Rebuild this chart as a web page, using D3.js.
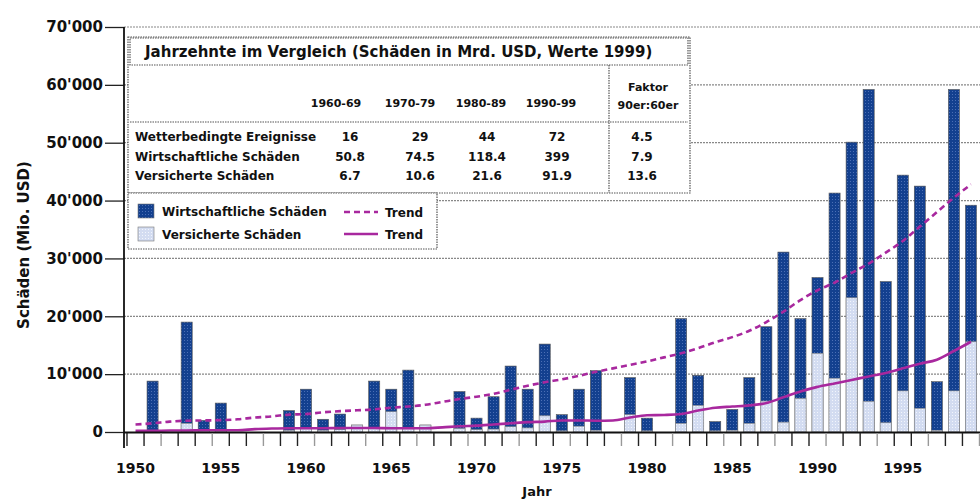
<!DOCTYPE html>
<html><head><meta charset="utf-8">
<script src="https://cdn.jsdelivr.net/npm/d3@7/dist/d3.min.js"></script>
<style>
body{margin:0;background:#fff}
svg{display:block}
text{font-family:"DejaVu Sans",Arial,Helvetica,sans-serif;font-weight:bold;fill:#111}
</style>
</head><body>
<svg id="c" width="980" height="502"></svg>
<script>
// ---------- data ----------
const years = [1950,1951,1952,1953,1954,1955,1956,1957,1958,1959,
               1960,1961,1962,1963,1964,1965,1966,1967,1968,1969,
               1970,1971,1972,1973,1974,1975,1976,1977,1978,1979,
               1980,1981,1982,1983,1984,1985,1986,1987,1988,1989,
               1990,1991,1992,1993,1994,1995,1996,1997,1998,1999];
const economic = [0,8800,0,19000,2000,5000,0,0,0,3700,
                  7400,2200,3100,1200,8800,7400,10700,1200,0,7000,
                  2400,6100,11400,7400,15200,3000,7400,10600,0,9400,
                  2400,0,19600,9800,1800,3900,9400,18200,31100,19600,
                  26700,41300,50100,59200,26000,44400,42500,8700,59200,39200];
const insured = [0,300,0,1500,300,400,0,0,0,300,
                 600,300,400,1200,800,3500,800,1200,0,600,
                 400,500,900,700,2800,200,1000,300,0,3000,
                 200,0,1500,4600,200,300,1500,5350,1700,5800,
                 13600,9300,23200,5300,1600,7100,4100,300,7100,15600];
const trendEconomic = [1300,1500,1800,1950,2000,2050,2200,2500,2700,3000,
                       3100,3400,3600,3750,3900,4200,4400,4700,5200,5700,
                       6100,6600,7300,8000,8600,9100,9700,10400,11000,11600,
                       12200,12900,13600,14500,15500,16400,17500,19000,20800,22800,
                       24500,25800,27500,29100,31000,33000,35500,38000,40500,42800];
const trendInsured = [200,200,250,250,300,300,300,500,600,650,
                      650,650,700,700,700,650,650,650,800,1000,
                      1100,1300,1500,1700,1800,2000,2000,1950,2000,2500,
                      2900,2950,3100,3700,4200,4400,4600,5000,6000,7000,
                      7800,8400,9000,9600,10200,11000,11800,12500,14000,15600];
const yTickValues = [0,10000,20000,30000,40000,50000,60000,70000];
const yTickLabels = ["0","10'000","20'000","30'000","40'000","50'000","60'000","70'000"];
const xLabelYears = [1950,1955,1960,1965,1970,1975,1980,1985,1990,1995];

const tableTitle = "Jahrzehnte im Vergleich (Schäden in Mrd. USD, Werte 1999)";
const decades = ["1960-69","1970-79","1980-89","1990-99"];
const factorHeader = ["Faktor","90er:60er"];
const rowLabels = ["Wetterbedingte Ereignisse","Wirtschaftliche Schäden","Versicherte Schäden"];
const tableValues = [["16","29","44","72"],["50.8","74.5","118.4","399"],["6.7","10.6","21.6","91.9"]];
const factors = ["4.5","7.9","13.6"];
const legendBars = ["Wirtschaftliche Schäden","Versicherte Schäden"];
const legendLines = ["Trend","Trend"];
const yTitle = "Schäden (Mio. USD)";
const xTitle = "Jahr";

// ---------- layout ----------
const svg = d3.select("#c");
const DARK = "#13408f", LIGHT = "#d3dcf1", TREND = "#a8289e";
const defs = svg.append("defs");
const pd = defs.append("pattern").attr("id","pDark").attr("width",3).attr("height",3).attr("patternUnits","userSpaceOnUse");
pd.append("rect").attr("width",3).attr("height",3).attr("fill",DARK);
pd.append("rect").attr("x",1).attr("y",1).attr("width",1).attr("height",1).attr("fill","#4b6fb5");
const pl = defs.append("pattern").attr("id","pLight").attr("width",3).attr("height",3).attr("patternUnits","userSpaceOnUse");
pl.append("rect").attr("width",3).attr("height",3).attr("fill",LIGHT);
pl.append("rect").attr("x",1).attr("y",1).attr("width",1).attr("height",1).attr("fill","#f2f5fc");

const x = d3.scaleBand().domain(years).range([127, 979.5]).paddingInner(0.35).paddingOuter(0.175);
const y = d3.scaleLinear().domain([0,70000]).range([432,27]);
const step = x.step();
const cx = d => x(d) + x.bandwidth()/2;

// grid
svg.append("g").selectAll("line").data(yTickValues.filter(v=>v>0)).join("line")
  .attr("x1",124).attr("x2",980).attr("y1",d=>y(d)).attr("y2",d=>y(d))
  .attr("stroke","#888").attr("stroke-width",1.2).attr("stroke-dasharray","2,1");

// bars
const bars = svg.append("g");
bars.selectAll("rect.e").data(years).join("rect").attr("class","e")
  .attr("x",d=>x(d)).attr("width",x.bandwidth())
  .attr("y",(d,i)=>y(economic[i])).attr("height",(d,i)=>y(0)-y(economic[i]))
  .attr("fill","url(#pDark)").attr("stroke","#555").attr("stroke-width",0.6)
  .style("display",(d,i)=>economic[i]>0?null:"none");
bars.selectAll("rect.i").data(years).join("rect").attr("class","i")
  .attr("x",d=>x(d)).attr("width",x.bandwidth())
  .attr("y",(d,i)=>y(insured[i])).attr("height",(d,i)=>y(0)-y(insured[i]))
  .attr("fill","url(#pLight)").attr("stroke","#888").attr("stroke-width",0.6)
  .style("display",(d,i)=>insured[i]>0?null:"none");

// trends
const line = d3.line().x(d=>cx(d[0])).y(d=>y(d[1])).curve(d3.curveMonotoneX);
svg.append("path").datum(years.map((yr,i)=>[yr,trendEconomic[i]]))
  .attr("d",line).attr("fill","none").attr("stroke",TREND).attr("stroke-width",2.6).attr("stroke-dasharray","6,4");
svg.append("path").datum(years.map((yr,i)=>[yr,trendInsured[i]]))
  .attr("d",line).attr("fill","none").attr("stroke",TREND).attr("stroke-width",2.6);

// y axis
const ya = svg.append("g").attr("transform","translate(124,0)")
  .call(d3.axisLeft(y).tickValues(yTickValues).tickFormat((d,i)=>yTickLabels[i]).tickSize(19).tickPadding(2));
ya.select(".domain").remove();
ya.selectAll(".tick line").attr("stroke","#222").attr("stroke-width",1.3);
ya.selectAll(".tick text").attr("font-size",15).style("font-weight","bold")
  .attr("font-family","DejaVu Sans, Arial, sans-serif").attr("fill","#111");
svg.append("line").attr("x1",124).attr("x2",124).attr("y1",27).attr("y2",448).attr("stroke","#111").attr("stroke-width",1.8);

// x axis
svg.append("line").attr("x1",124).attr("x2",980).attr("y1",432.5).attr("y2",432.5).attr("stroke","#111").attr("stroke-width",1.8);
svg.append("g").selectAll("line").data(years.concat([2000])).join("line")
  .attr("x1",(d,i)=>127+i*step).attr("x2",(d,i)=>127+i*step)
  .attr("y1",433).attr("y2",446)
  .attr("stroke",(d,i)=>i%3===2?"#999":"#222").attr("stroke-width",1.4);
svg.append("g").selectAll("text").data(xLabelYears).join("text")
  .attr("x",d=>cx(d)).attr("y",473).attr("text-anchor","middle")
  .attr("font-size",14).text(d=>d);

// axis titles
svg.append("text").attr("transform","translate(29,245) rotate(-90)").attr("text-anchor","middle")
  .attr("font-size",15).text(yTitle);
svg.append("text").attr("x",537).attr("y",496).attr("text-anchor","middle").attr("font-size",13).text(xTitle);

// table
const tb = svg.append("g");
const box = (x0,y0,w,h,g)=> (g||tb).append("rect").attr("x",x0).attr("y",y0).attr("width",w).attr("height",h)
  .attr("fill","#fff").attr("stroke","#555").attr("stroke-width",1.2).attr("stroke-dasharray","1.5,1");
box(128,37,562,156);
box(130,38,558,27);
tb.append("line").attr("x1",130).attr("x2",688).attr("y1",122).attr("y2",122).attr("stroke","#555").attr("stroke-width",1.2).attr("stroke-dasharray","1.5,1");
tb.append("line").attr("x1",609).attr("x2",609).attr("y1",65).attr("y2",193).attr("stroke","#555").attr("stroke-width",1.2).attr("stroke-dasharray","1.5,1");
tb.append("text").attr("x",145).attr("y",57).attr("font-size",15).text(tableTitle);
const headX = [336,410,481,551];
const valX = [350,420,487,557];
tb.selectAll("text.h").data(decades).join("text").attr("class","h")
  .attr("x",(d,i)=>headX[i]).attr("y",107).attr("text-anchor","middle").attr("font-size",11).text(d=>d);
tb.selectAll("text.f").data(factorHeader).join("text").attr("class","f")
  .attr("x",648).attr("y",(d,i)=>91+i*18).attr("text-anchor","middle").attr("font-size",11).text(d=>d);
rowLabels.forEach((r,ri)=>{
  const yy = 141 + ri*19.5;
  tb.append("text").attr("x",135).attr("y",yy).attr("font-size",12).text(r);
  tableValues[ri].forEach((v,ci)=>{
    tb.append("text").attr("x",valX[ci]).attr("y",yy).attr("text-anchor","middle").attr("font-size",12).text(v);
  });
  tb.append("text").attr("x",642).attr("y",yy).attr("text-anchor","middle").attr("font-size",12).text(factors[ri]);
});

// legend
const lg = svg.append("g");
box(128,193,309,56,lg);
[ "url(#pDark)","url(#pLight)" ].forEach((f,i)=>{
  lg.append("rect").attr("x",138).attr("y",204+i*23).attr("width",16).attr("height",14)
    .attr("fill",f).attr("stroke","#777").attr("stroke-width",0.6);
  lg.append("text").attr("x",162).attr("y",216+i*23).attr("font-size",12).text(legendBars[i]);
  lg.append("line").attr("x1",344).attr("x2",378).attr("y1",212+i*22).attr("y2",212+i*22)
    .attr("stroke",TREND).attr("stroke-width",2.6).attr("stroke-dasharray",i===0?"6,4":null);
  lg.append("text").attr("x",385).attr("y",217+i*22).attr("font-size",12).text(legendLines[i]);
});
</script>
</body></html>
